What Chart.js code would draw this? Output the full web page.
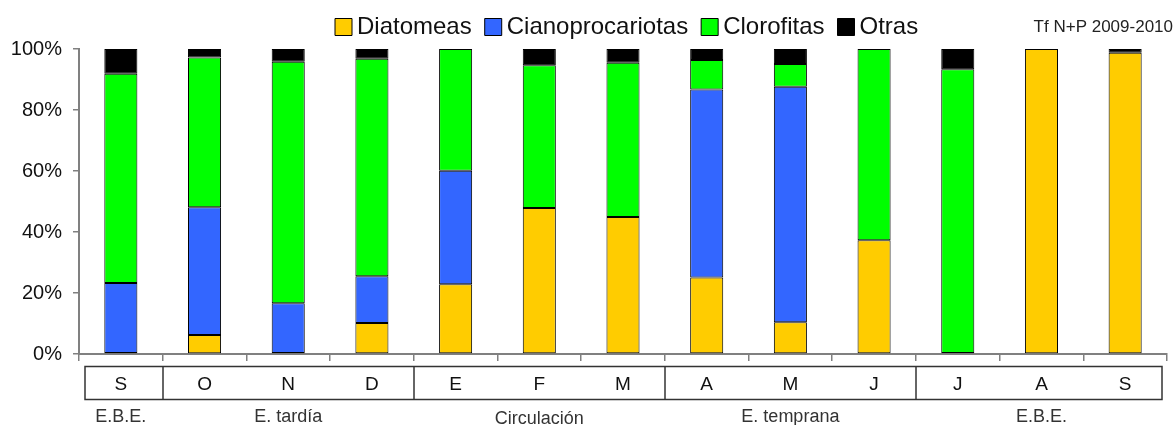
<!DOCTYPE html>
<html>
<head>
<meta charset="utf-8">
<script src="https://cdn.jsdelivr.net/npm/chart.js@4"></script>
<style>
  html, body { margin: 0; padding: 0; background: #fff; }
  #wrap { width: 1176px; height: 425px; }
</style>
</head>
<body>
<div id="wrap"><canvas id="chart"></canvas></div>
<script>
// Meses (eje X) y estaciones
const meses = ['S', 'O', 'N', 'D', 'E', 'F', 'M', 'A', 'M', 'J', 'J', 'A', 'S'];
const estaciones = ['E.B.E.', '', 'E. tardía', '', '', 'Circulación', '', '', 'E. temprana', '', '', 'E.B.E.', ''];
// Limites entre estaciones (indice del ultimo mes de cada grupo)
const cortes = [0, 3, 6, 9];

// Porcentajes por grupo
const diatomeas        = [0.3, 6.2, 0.3, 10.2, 22.9, 47.9, 44.9, 25.1, 10.4, 37.3, 0, 100, 98.8];
const cianoprocariotas = [23.0, 41.9, 16.3, 15.3, 37.2, 0, 0, 61.6, 77.2, 0, 0.3, 0, 0];
const clorofitas       = [68.6, 49.1, 79.2, 71.3, 39.9, 46.8, 50.6, 9.7, 7.5, 62.7, 93.1, 0, 0];
const otras            = [8.1, 2.8, 4.2, 3.2, 0, 5.3, 4.5, 3.6, 4.9, 0, 6.6, 0, 1.2];

const yTicks = [0, 20, 40, 60, 80, 100];

Chart.defaults.font.family = "'Liberation Sans', Arial, sans-serif";
Chart.defaults.color = '#111';

// Caja de meses bajo el eje y el rotulo de la esquina
const decoracion = {
    id: 'decoracion',
    afterLayout(chart) {
        // desplaza la leyenda para que empiece donde en el original
        chart.legend.left = 322;
    },
    afterDraw(chart) {
        const ctx = chart.ctx;
        const x = chart.scales.x;
        const step = x.getPixelForTick(1) - x.getPixelForTick(0);
        const top = x.top + 12.5;
        const bottom = top + 33;

        ctx.save();
        ctx.strokeStyle = '#333';
        ctx.lineWidth = 1.5;
        ctx.strokeRect(x.left + 6, top, x.right - x.left - 11, bottom - top);
        cortes.forEach(i => {
            const px = Math.round(x.getPixelForTick(i) + step / 2);
            ctx.beginPath();
            ctx.moveTo(px, top);
            ctx.lineTo(px, bottom);
            ctx.stroke();
        });

        ctx.fillStyle = '#222';
        ctx.font = "17px 'Liberation Sans', Arial, sans-serif";
        ctx.textAlign = 'right';
        ctx.textBaseline = 'middle';
        ctx.fillText('Tf N+P 2009-2010', chart.width - 3, 27);
        ctx.restore();
    }
};

const borde = '#000';

function serie(label, data, color) {
    return {
        label: label,
        data: data,
        backgroundColor: color,
        borderColor: borde,
        borderWidth: 1,
        borderSkipped: false,
        categoryPercentage: 1,
        barPercentage: 0.395
    };
}

new Chart(document.getElementById('chart'), {
    type: 'bar',
    data: {
        labels: meses,
        datasets: [
            serie('Diatomeas', diatomeas, '#FFCC00'),
            serie('Cianoprocariotas', cianoprocariotas, '#3366FF'),
            serie('Clorofitas', clorofitas, '#00FF00'),
            serie('Otras', otras, '#000000')
        ]
    },
    options: {
        responsive: true,
        maintainAspectRatio: false,
        animation: false,
        layout: { padding: { top: -5, right: 9, left: 0, bottom: 0 } },
        plugins: {
            tooltip: { enabled: false },
            legend: {
                position: 'top',
                align: 'start',
                labels: {
                    usePointStyle: true,
                    pointStyle: 'rect',
                    boxWidth: 3,
                    boxHeight: 17,
                    padding: 20,
                    color: '#111',
                    font: { size: 24 }
                }
            }
        },
        scales: {
            x: {
                stacked: true,
                offset: true,
                grid: {
                    display: true,
                    drawOnChartArea: false,
                    offset: true,
                    tickLength: 7,
                    color: '#808080',
                    lineWidth: 1.5
                },
                border: { color: '#808080', width: 2 },
                ticks: {
                    autoSkip: false,
                    maxRotation: 0,
                    padding: 12,
                    color: '#111',
                    font: { size: 19 }
                },
                afterFit: s => { s.height = 42; }
            },
            x2: {
                type: 'category',
                position: 'bottom',
                labels: estaciones,
                offset: true,
                grid: { display: false, drawTicks: false },
                border: { display: false },
                ticks: {
                    autoSkip: false,
                    maxRotation: 0,
                    padding: 10,
                    color: '#333',
                    font: c => (c.tick && c.tick.label === 'Circulación')
                        ? { size: 18, lineHeight: 1.5 }
                        : { size: 18 }
                },
                afterFit: s => { s.height = 29; }
            },
            y: {
                stacked: true,
                min: 0,
                max: 100,
                afterBuildTicks: s => { s.ticks = yTicks.map(v => ({ value: v })); },
                grid: {
                    display: true,
                    drawOnChartArea: false,
                    tickLength: 6,
                    color: '#808080',
                    lineWidth: 1.5
                },
                border: { color: '#808080', width: 2 },
                ticks: {
                    padding: 11,
                    color: '#111',
                    font: { size: 20 },
                    callback: v => v + '%'
                },
                afterFit: s => { s.width = 79; }
            }
        }
    },
    plugins: [decoracion]
});
</script>
</body>
</html>
